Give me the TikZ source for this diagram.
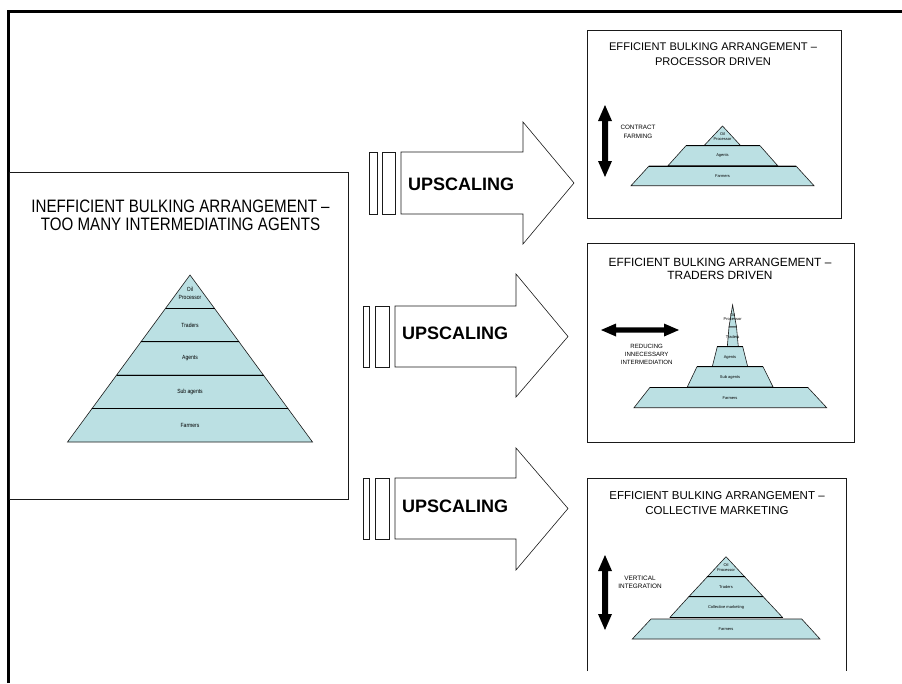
\documentclass[tikz,border=0pt]{standalone}
\usepackage{fontspec}
\setmainfont{Liberation Sans}
\newfontfamily\narrowfont{Liberation Sans}[FakeStretch=0.84]
\definecolor{pyr}{HTML}{BBE0E3}
\definecolor{edge}{HTML}{1A1A1A}
\begin{document}
\begin{tikzpicture}[x=1pt,y=-1pt,
  panel/.style={draw=edge, line width=0.8pt, rectangle, inner sep=0pt, anchor=north west},
  layer/.style={fill=pyr, draw=edge, line width=0.6pt, line join=miter},
  sepline/.style={draw=black, line width=1.3pt},
  blockarrow/.style={draw=edge, fill=white, line width=0.6pt, line join=miter},
  bar/.style={draw=edge, fill=white, line width=0.6pt},
  dblarrow/.style={fill=black},
  upsc/.style={font=\bfseries\fontsize{18}{18}\selectfont, inner sep=0pt, anchor=west},
  biglbl/.style={font=\narrowfont\fontsize{6}{7.7}\selectfont, inner sep=0pt, align=center},
  tinylbl/.style={font=\fontsize{4}{4.6}\selectfont, inner sep=0pt, align=center},
  annot/.style={font=\fontsize{6.3}{8.2}\selectfont, inner sep=0pt, align=center}
]
\useasboundingbox (0,0) rectangle (902,683);
\fill[white] (0,0) rectangle (902,683);

% outer frame (top and left)
\draw[line width=2.5pt, black] (8.5,683) -- (8.5,11.5) -- (902,11.5);

% ---------------- left panel ----------------
\node[panel, minimum width=339.4pt, minimum height=327pt] (inef) at (8.6,172) {};
\node[font=\narrowfont\fontsize{18}{18}\selectfont, align=center, inner sep=0pt] (inefT) at (180.5,215)
  {INEFFICIENT BULKING ARRANGEMENT –\\TOO MANY INTERMEDIATING AGENTS};

\path[layer] (190,275) -- (214.5,308.4) -- (165.5,308.4) -- cycle;
\path[layer] (165.5,308.4) -- (214.5,308.4) -- (239,341.8) -- (141,341.8) -- cycle;
\path[layer] (141,341.8) -- (239,341.8) -- (263.5,375.2) -- (116.5,375.2) -- cycle;
\path[layer] (116.5,375.2) -- (263.5,375.2) -- (288,408.6) -- (92,408.6) -- cycle;
\path[layer] (92,408.6) -- (288,408.6) -- (312.5,442) -- (67.5,442) -- cycle;
\draw[sepline] (165.5,308.4) -- (214.5,308.4);
\draw[sepline] (141,341.8) -- (239,341.8);
\draw[sepline] (116.5,375.2) -- (263.5,375.2);
\draw[sepline] (92,408.6) -- (288,408.6);
\node[biglbl] (lp1) at (190,293) {Oil\\Processor};
\node[biglbl] (lp2) at (190,325.7) {Traders};
\node[biglbl] (lp3) at (190,358.5) {Agents};
\node[biglbl] (lp4) at (190,392) {Sub agents};
\node[biglbl] (lp5) at (190,425.5) {Farmers};

% ---------------- block arrows ----------------
\draw[bar] (369,152) rectangle (377,214);
\draw[bar] (382,152) rectangle (395,214);
\draw[blockarrow] (401,152) -- (523,152) -- (523,122) -- (574,183) -- (523,244) -- (523,214) -- (401,214) -- cycle;
\node[upsc] (up1) at (408,184) {UPSCALING};

\draw[bar] (363,306) rectangle (369,367);
\draw[bar] (375,306) rectangle (389,367);
\draw[blockarrow] (395,306) -- (516,306) -- (516,274) -- (568,336.5) -- (516,397) -- (516,367) -- (395,367) -- cycle;
\node[upsc] (up2) at (402,333) {UPSCALING};

\draw[bar] (363,478) rectangle (369,539);
\draw[bar] (375,478) rectangle (389,539);
\draw[blockarrow] (395,478) -- (516,478) -- (516,448) -- (568,508.5) -- (516,570) -- (516,539) -- (395,539) -- cycle;
\node[upsc] (up3) at (402,506) {UPSCALING};

% ---------------- panel 1: processor driven ----------------
\node[panel, minimum width=254pt, minimum height=188.5pt] (p1) at (587,29.5) {};
\node[font=\fontsize{11.1}{15}\selectfont, align=center, inner sep=0pt] (p1T) at (713,54)
  {EFFICIENT BULKING ARRANGEMENT –\\PROCESSOR DRIVEN};
\path[dblarrow] (605,105) -- (612,121) -- (608,121) -- (608,161) -- (612,161) -- (605,177)
  -- (598,161) -- (602,161) -- (602,121) -- (598,121) -- cycle;
\node[annot] (p1A) at (638,131.8) {CONTRACT\\FARMING};
\path[layer] (722.5,126) -- (740.7,145.7) -- (704,145.7) -- cycle;
\path[layer] (686,145.7) -- (760,145.7) -- (777.7,165.7) -- (668,165.7) -- cycle;
\path[layer] (649,166) -- (796,166) -- (814,185.7) -- (631,185.7) -- cycle;
\draw[sepline, line width=1pt] (686,145.7) -- (760,145.7);
\draw[sepline, line width=1pt] (649,166) -- (796,166);
\node[tinylbl] (p1L1) at (722.5,136.3) {Oil\\Processor};
\node[tinylbl] (p1L2) at (722.5,155.5) {Agents};
\node[tinylbl] (p1L3) at (722.5,176) {Farmers};

% ---------------- panel 2: traders driven ----------------
\node[panel, minimum width=267pt, minimum height=199pt] (p2) at (587,243) {};
\node[font=\fontsize{11.9}{13.5}\selectfont, align=center, inner sep=0pt] (p2T) at (720,269)
  {EFFICIENT BULKING ARRANGEMENT –\\TRADERS DRIVEN};
\path[dblarrow] (601,330) -- (616,323.5) -- (616,327.3) -- (664,327.3) -- (664,323.5) -- (679,330)
  -- (664,336.5) -- (664,332.7) -- (616,332.7) -- (616,336.5) -- cycle;
\node[annot, font=\fontsize{6.1}{7.8}\selectfont] (p2A) at (646.7,354.5) {REDUCING\\INNECESSARY\\INTERMEDIATION};
\path[layer] (732.6,305) -- (736.5,327) -- (729,327) -- cycle;
\path[layer] (729,327) -- (736.5,327) -- (738.3,346.7) -- (727.3,346.7) -- cycle;
\path[layer] (717.3,346.7) -- (742.7,346.7) -- (747.7,366.7) -- (712.3,366.7) -- cycle;
\path[layer] (697,366.7) -- (763,366.7) -- (773,386.9) -- (687.3,386.9) -- cycle;
\path[layer] (650,387.3) -- (807.7,387.3) -- (826.7,407.7) -- (634,407.7) -- cycle;
\draw[sepline, line width=1pt] (717.3,346.7) -- (742.7,346.7);
\draw[sepline, line width=1pt] (697,366.7) -- (763,366.7);
\draw[sepline, line width=1pt] (650,387.3) -- (807.7,387.3);
\node[tinylbl] (p2L1) at (732.6,317) {Oil\\Processor};
\node[tinylbl] (p2L2) at (732.6,337.3) {Traders};
\node[tinylbl] (p2L3) at (730,357.3) {Agents};
\node[tinylbl] (p2L4) at (730,377.5) {Sub agents};
\node[tinylbl] (p2L5) at (730,397.7) {Farmers};

% ---------------- panel 3: collective marketing ----------------
\draw[draw=edge, line width=0.8pt] (587.3,671) -- (587.3,478.3) -- (846.7,478.3) -- (846.7,671);
\coordinate (p3) at (717,478.3);
\node[font=\fontsize{11.5}{15}\selectfont, align=center, inner sep=0pt] (p3T) at (717,503)
  {EFFICIENT BULKING ARRANGEMENT –\\COLLECTIVE MARKETING};
\path[dblarrow] (605,555) -- (612,571) -- (608,571) -- (608,614) -- (612,614) -- (605,630)
  -- (598,614) -- (602,614) -- (602,571) -- (598,571) -- cycle;
\node[annot, font=\fontsize{6.4}{8.4}\selectfont] (p3A) at (640,582.5) {VERTICAL\\INTEGRATION};
\path[layer] (726,556.7) -- (744.6,576.7) -- (707.4,576.7) -- cycle;
\path[layer] (707.4,576.7) -- (744.6,576.7) -- (763.2,596.7) -- (688.8,596.7) -- cycle;
\path[layer] (688.8,596.7) -- (763.2,596.7) -- (782.5,617.3) -- (670,617.3) -- cycle;
\path[layer] (651,619) -- (801.7,619) -- (820,639) -- (632.3,639) -- cycle;
\draw[sepline, line width=1pt] (707.4,576.7) -- (744.6,576.7);
\draw[sepline, line width=1pt] (688.8,596.7) -- (763.2,596.7);
\draw[sepline, line width=1pt] (670,617.3) -- (782.5,617.3);
\node[tinylbl] (p3L1) at (726,567.5) {Oil\\Processor};
\node[tinylbl] (p3L2) at (726,586.7) {Traders};
\node[tinylbl] (p3L3) at (726,607.3) {Collective marketing};
\node[tinylbl] (p3L4) at (726,628.7) {Farmers};
\end{tikzpicture}
\end{document}
